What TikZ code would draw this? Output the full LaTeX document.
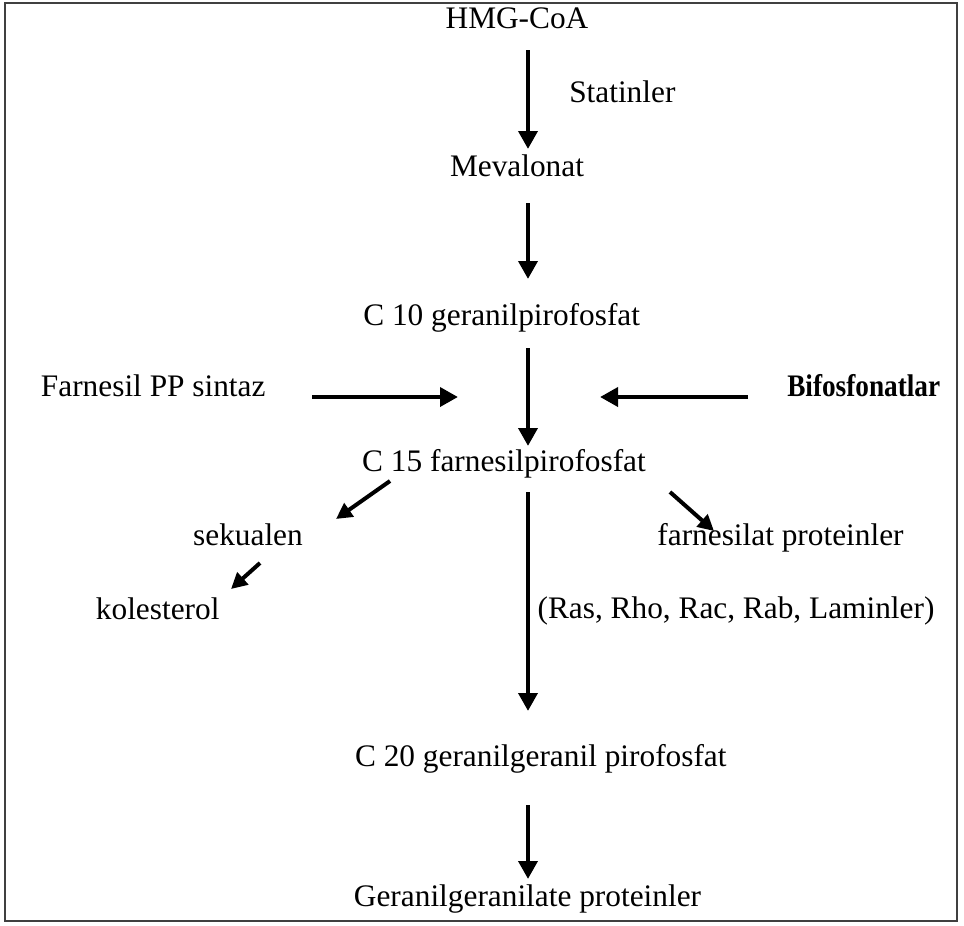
\documentclass[tikz,border=0pt]{standalone}
\usepackage{fontspec}
\setmainfont{Liberation Serif}
\newfontfamily\bifont[FakeStretch=0.87]{Liberation Serif}
\usetikzlibrary{arrows.meta}
\begin{document}
\begin{tikzpicture}[x=0.75pt,y=-0.75pt,
  lbl/.style={inner sep=0pt,anchor=base,font=\fontsize{23.5}{28}\selectfont},
  lblw/.style={lbl,anchor=base west},
  arr/.style={line width=3.6pt,-{Triangle[length=13.5pt,width=14pt]}},
  sarr/.style={line width=3pt,-{Triangle[length=12pt,width=12pt]}}]
\useasboundingbox (0,0) rectangle (964,925);
\draw[line width=1.2pt,black!75] (5,3) rectangle (957,921);
% nodes
\node[lbl] (hmg) at (517,28.3) {HMG-CoA};
\node[lblw] (stat) at (569,102.7) {Statinler};
\node[lbl] (meva) at (517,176.7) {Mevalonat};
\node[lbl] (c10) at (501.7,325) {C 10 geranilpirofosfat};
\node[lblw] (fpps) at (40.7,396.7) {Farnesil PP sintaz};
\node[lblw,font=\fontsize{23.5}{28}\bifont\bfseries] (bif) at (787,396.7) {Bifosfonatlar};
\node[lbl] (c15) at (504,471.7) {C 15 farnesilpirofosfat};
\node[lbl] (sek) at (248,545) {sekualen};
\node[lbl] (kol) at (157.7,619.3) {kolesterol};
\node[lbl] (farp) at (780.5,545) {farnesilat proteinler};
\node[lbl] (ras) at (736,618.3) {(Ras, Rho, Rac, Rab, Laminler)};
\node[lbl] (c20) at (540.8,766.7) {C 20 geranilgeranil pirofosfat};
\node[lbl] (ggp) at (527.5,906.7) {Geranilgeranilate proteinler};
% arrow ends
\coordinate (a1s) at (528,50);  \coordinate (a1e) at (528,149);
\coordinate (a2s) at (528,203); \coordinate (a2e) at (528,279);
\coordinate (a3s) at (528,348); \coordinate (a3e) at (528,446);
\coordinate (a4s) at (312,397); \coordinate (a4e) at (458,397);
\coordinate (a5s) at (748,397); \coordinate (a5e) at (600,397);
\coordinate (a6s) at (390,481); \coordinate (a6e) at (336,519);
\coordinate (a7s) at (260,563); \coordinate (a7e) at (231,589);
\coordinate (a8s) at (670,492); \coordinate (a8e) at (714,531);
\coordinate (a9s) at (528,492); \coordinate (a9e) at (528,711);
\coordinate (a10s) at (528,805); \coordinate (a10e) at (528,879);
\draw[arr] (a1s) -- (a1e);
\draw[arr] (a2s) -- (a2e);
\draw[arr] (a3s) -- (a3e);
\draw[arr] (a4s) -- (a4e);
\draw[arr] (a5s) -- (a5e);
\draw[sarr] (a6s) -- (a6e);
\draw[sarr] (a7s) -- (a7e);
\draw[sarr] (a8s) -- (a8e);
\draw[arr] (a9s) -- (a9e);
\draw[arr] (a10s) -- (a10e);
\end{tikzpicture}
\end{document}
